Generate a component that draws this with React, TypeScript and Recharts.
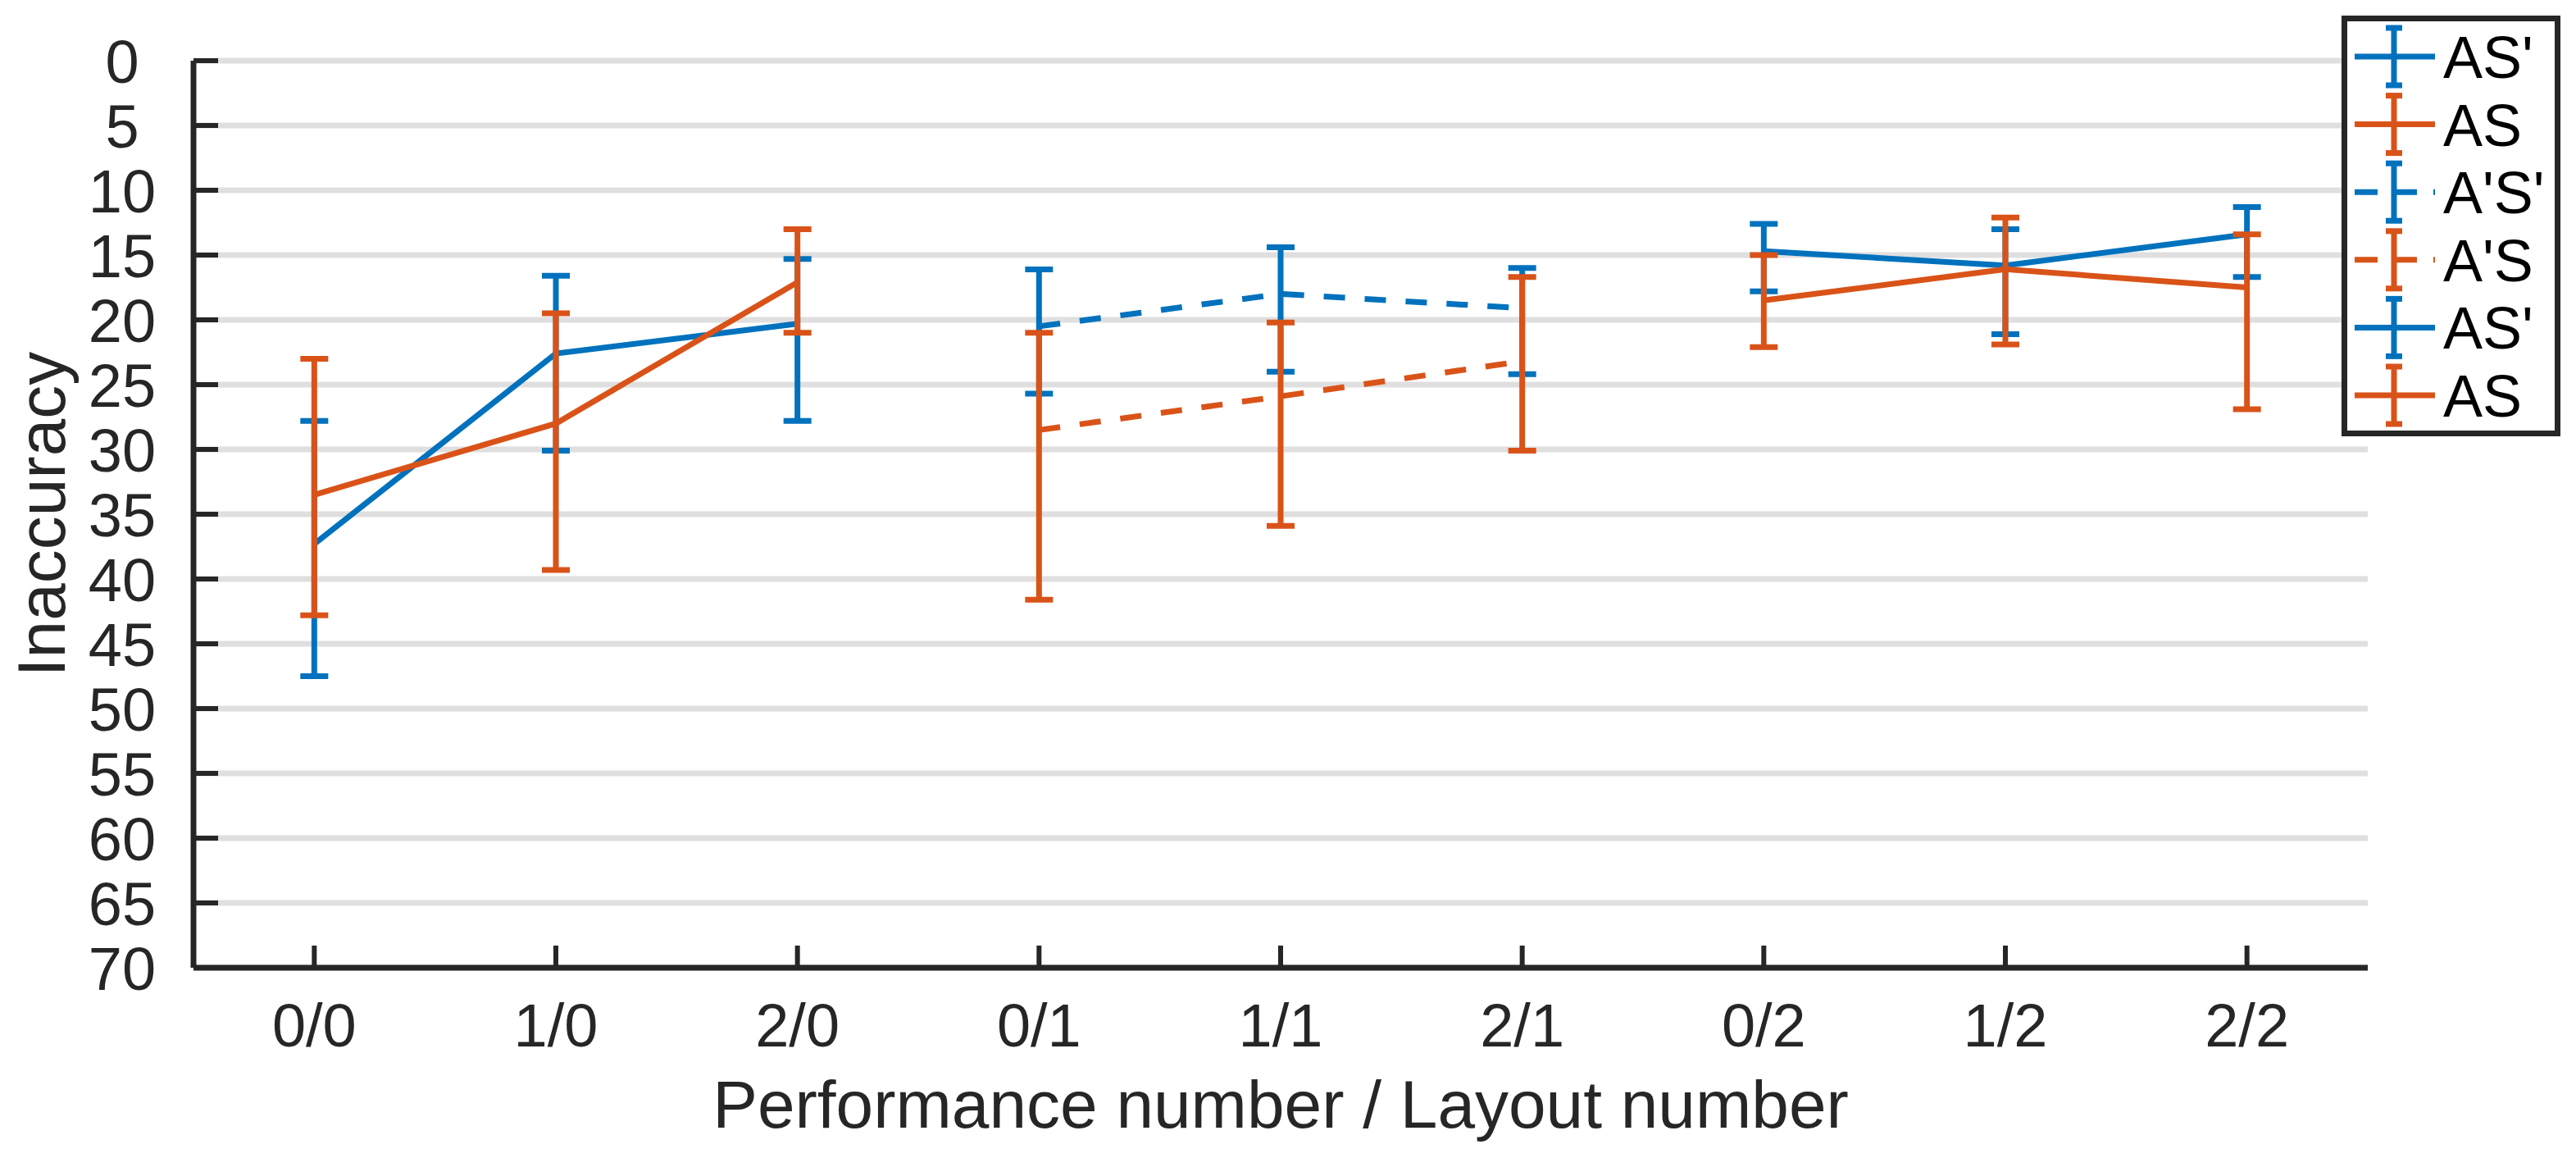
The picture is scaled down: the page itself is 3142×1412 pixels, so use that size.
import React from 'react';
import { ComposedChart, Line, ErrorBar, XAxis, YAxis, CartesianGrid, Legend } from 'recharts';

const categories = ['0/0', '1/0', '2/0', '0/1', '1/1', '2/1', '0/2', '1/2', '2/2'];
const yTicks = [0, 5, 10, 15, 20, 25, 30, 35, 40, 45, 50, 55, 60, 65, 70];

// each group covers three categories, starting at the given index
const asPrimeMeanA = [37.3, 22.6, 20.3];
const asPrimeLowA = [27.8, 16.6, 15.3];
const asPrimeHighA = [47.5, 30.1, 27.8];

const asMeanA = [33.5, 28.0, 17.1];
const asLowA = [23.0, 19.5, 13.0];
const asHighA = [42.8, 39.3, 21.0];

const aPrimeSPrimeMean = [20.5, 18.0, 19.1];
const aPrimeSPrimeLow = [16.1, 14.4, 16.0];
const aPrimeSPrimeHigh = [25.7, 24.0, 24.2];

const aPrimeSMean = [28.5, 25.9, 23.2];
const aPrimeSLow = [21.0, 20.2, 16.7];
const aPrimeSHigh = [41.6, 35.9, 30.1];

const asPrimeMeanB = [14.7, 15.8, 13.4];
const asPrimeLowB = [12.6, 13.0, 11.3];
const asPrimeHighB = [17.8, 21.1, 16.7];

const asMeanB = [18.5, 16.1, 17.5];
const asLowB = [15.0, 12.1, 13.4];
const asHighB = [22.1, 21.9, 26.9];

const BLUE = '#0072BD';
const ORANGE = '#D95319';
const AXIS = '#262626';
const FONT = '"Liberation Sans", Arial, Helvetica, sans-serif';

const series = [
  { key: 's1', name: "AS'", color: BLUE, dash: undefined, start: 0, mean: asPrimeMeanA, low: asPrimeLowA, high: asPrimeHighA },
  { key: 's2', name: 'AS', color: ORANGE, dash: undefined, start: 0, mean: asMeanA, low: asLowA, high: asHighA },
  { key: 's3', name: "A'S'", color: BLUE, dash: '26 24', start: 3, mean: aPrimeSPrimeMean, low: aPrimeSPrimeLow, high: aPrimeSPrimeHigh },
  { key: 's4', name: "A'S", color: ORANGE, dash: '26 24', start: 3, mean: aPrimeSMean, low: aPrimeSLow, high: aPrimeSHigh },
  { key: 's5', name: "AS'", color: BLUE, dash: undefined, start: 6, mean: asPrimeMeanB, low: asPrimeLowB, high: asPrimeHighB },
  { key: 's6', name: 'AS', color: ORANGE, dash: undefined, start: 6, mean: asMeanB, low: asLowB, high: asHighB },
];

const rows = categories.map((name, i) => {
  const row: Record<string, any> = { name };
  series.forEach((s) => {
    const j = i - s.start;
    if (j >= 0 && j < s.mean.length) {
      row[s.key] = s.mean[j];
      row[s.key + 'Err'] = [s.mean[j] - s.low[j], s.high[j] - s.mean[j]];
    } else {
      row[s.key] = null;
      row[s.key + 'Err'] = null;
    }
  });
  return row;
});

const YTick = (props: any) => {
  const { x, y, payload } = props;
  return (
    <g>
      <line x1={x} y1={y} x2={x + 30} y2={y} stroke={AXIS} strokeWidth={6} />
      <text x={x - 87} y={y} dy="0.36em" textAnchor="middle" fontSize={74} fill={AXIS} fontFamily={FONT}>
        {payload.value}
      </text>
    </g>
  );
};

const XTick = (props: any) => {
  const { x, y, payload } = props;
  return (
    <g>
      <line x1={x} y1={y} x2={x} y2={y - 27} stroke={AXIS} strokeWidth={6} />
      <text x={x} y={y + 96} textAnchor="middle" fontSize={74} fill={AXIS} fontFamily={FONT}>
        {payload.value}
      </text>
    </g>
  );
};

const XTitle = (props: any) => {
  const { viewBox } = props;
  return (
    <text x={viewBox.x + viewBox.width / 2} y={viewBox.y + 195} textAnchor="middle" fontSize={82} fill={AXIS} fontFamily={FONT}>
      Performance number / Layout number
    </text>
  );
};

const YTitle = (props: any) => {
  const { viewBox } = props;
  const cx = viewBox.x + 71;
  const cy = viewBox.y + viewBox.height / 2;
  return (
    <g transform={`translate(${cx}, ${cy}) rotate(-90)`}>
      <text x={0} y={0} textAnchor="middle" fontSize={82} fill={AXIS} fontFamily={FONT}>
        Inaccuracy
      </text>
    </g>
  );
};

const renderLegend = () => (
  <svg width={267} height={513} style={{ display: 'block' }}>
    <rect x={3.5} y={3.5} width={260} height={506} fill="#fff" stroke={AXIS} strokeWidth={7} />
    {series.map((s, i) => {
      const cy = 50 + i * 82.6;
      return (
        <g key={s.key}>
          <line x1={16} y1={cy} x2={114} y2={cy} stroke={s.color} strokeWidth={7} strokeDasharray={s.dash ? '28 20' : undefined} />
          <line x1={64} y1={cy - 35} x2={64} y2={cy + 35} stroke={s.color} strokeWidth={7} />
          <line x1={54} y1={cy - 35} x2={74} y2={cy - 35} stroke={s.color} strokeWidth={7} />
          <line x1={54} y1={cy + 35} x2={74} y2={cy + 35} stroke={s.color} strokeWidth={7} />
          <text x={124} y={cy + 26} fontSize={72} fill="#000" fontFamily={FONT}>
            {s.name}
          </text>
        </g>
      );
    })}
  </svg>
);

export default function App() {
  return (
    <div style={{ width: 3134, height: 1404, background: '#fff' }}>
      <ComposedChart
        width={3134}
        height={1404}
        data={rows}
        margin={{ top: 66, right: 254, bottom: 0, left: 0 }}
        style={{ fontFamily: FONT }}
      >
        <CartesianGrid vertical={false} stroke="#dfdfdf" strokeWidth={7} />
        <XAxis
          dataKey="name"
          scale="band"
          height={232}
          interval={0}
          tickLine={false}
          tickSize={0}
          tickMargin={0}
          tick={<XTick />}
          axisLine={{ stroke: AXIS, strokeWidth: 7 }}
          label={<XTitle />}
        />
        <YAxis
          width={228}
          domain={[0, 70]}
          ticks={yTicks}
          interval={0}
          reversed
          allowDataOverflow
          tickLine={false}
          tickSize={0}
          tickMargin={0}
          tick={<YTick />}
          axisLine={{ stroke: AXIS, strokeWidth: 7 }}
          label={<YTitle />}
        />
        <Legend
          layout="horizontal"
          align="center"
          verticalAlign="middle"
          content={renderLegend}
          wrapperStyle={{ left: 2848, top: 11, width: 267, height: 513 }}
        />
        {series.map((s) => (
          <Line
            key={s.key}
            dataKey={s.key}
            name={s.name}
            stroke={s.color}
            strokeWidth={7}
            strokeDasharray={s.dash}
            dot={false}
            activeDot={false}
            connectNulls={false}
            isAnimationActive={false}
          >
            <ErrorBar
              dataKey={s.key + 'Err'}
              direction="y"
              width={17}
              stroke={s.color}
              strokeWidth={7}
              isAnimationActive={false}
            />
          </Line>
        ))}
      </ComposedChart>
    </div>
  );
}
